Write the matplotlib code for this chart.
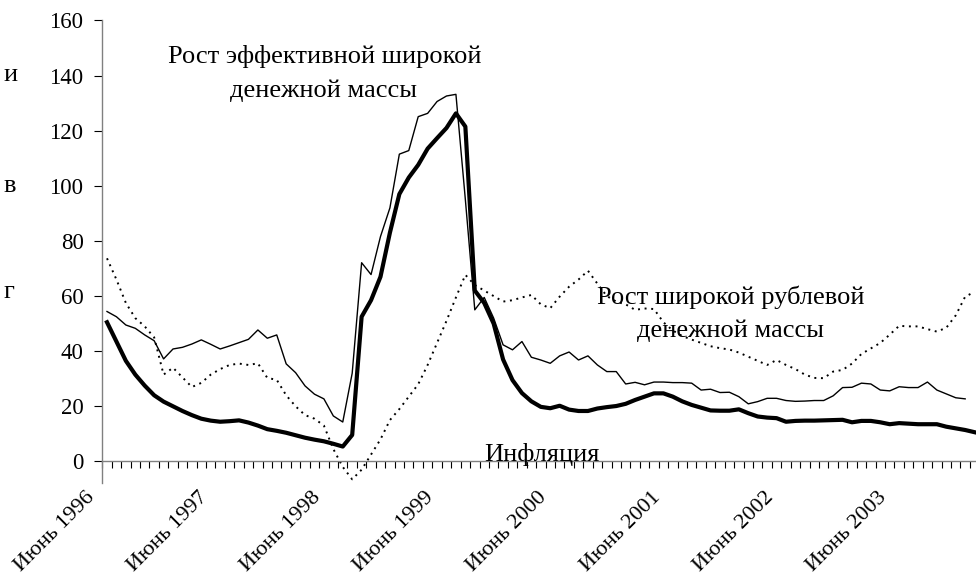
import matplotlib
matplotlib.use('Agg')
import matplotlib.pyplot as plt
from matplotlib.transforms import ScaledTranslation
import numpy as np

plt.rcParams['font.family'] = ['Liberation Serif', 'DejaVu Serif']

# monthly data, June 1996 onwards (%, year on year)
effective_m2 = [50.5, 43.5, 36.5, 31.5, 27.5, 24.0, 21.7, 20.0, 18.3, 16.8,
                15.5, 14.8, 14.4, 14.6, 14.9, 14.1, 13.0, 11.7, 11.1, 10.4,
                9.5, 8.6, 7.9, 7.3, 6.4, 5.4, 9.6, 52.5, 58.5, 67.0,
                83.0, 97.0, 103.0, 107.6, 113.5, 117.3, 121.0, 126.3, 121.5, 62.0,
                57.5, 50.0, 37.0, 29.5, 24.8, 21.8, 19.8, 19.3, 20.2, 18.8,
                18.3, 18.3, 19.2, 19.7, 20.1, 20.9, 22.3, 23.5, 24.7, 24.7,
                23.5, 21.8, 20.5, 19.5, 18.5, 18.4, 18.4, 18.9, 17.5, 16.3,
                15.9, 15.7, 14.4, 14.7, 14.8, 14.8, 14.9, 15.0, 15.1, 14.2,
                14.7, 14.7, 14.2, 13.5, 13.9, 13.7, 13.5, 13.5, 13.5, 12.6,
                12.0, 11.4, 10.6]

ruble_m2 = [54.4, 52.5, 49.5, 48.3, 45.9, 43.8, 37.2, 40.8, 41.4, 42.6,
            44.1, 42.5, 40.8, 41.9, 43.1, 44.3, 47.7, 44.7, 45.9, 35.4,
            32.2, 27.4, 24.4, 22.7, 16.5, 14.3, 32.0, 72.1, 67.8, 81.6,
            92.0, 111.5, 112.8, 125.1, 126.3, 130.6, 132.6, 133.2, 95.0, 55.0,
            59.5, 52.0, 42.3, 40.5, 43.5, 37.8, 36.8, 35.6, 38.3, 39.7,
            36.8, 38.3, 35.0, 32.6, 32.6, 28.1, 28.7, 27.8, 28.8, 28.8,
            28.6, 28.6, 28.4, 25.9, 26.2, 25.0, 25.1, 23.5, 20.9, 21.7,
            22.9, 22.9, 22.1, 21.8, 21.9, 22.1, 22.1, 23.8, 26.8, 26.9,
            28.4, 28.1, 25.9, 25.6, 27.1, 26.8, 26.8, 28.8, 25.9, 24.5,
            23.1, 22.7]

inflation = [73.7, 66.0, 57.5, 52.0, 49.0, 45.0, 31.5, 34.0, 30.5, 27.0,
             28.5, 31.5, 33.5, 35.0, 35.5, 35.0, 35.6, 30.3, 29.6, 24.0,
             20.0, 16.8, 15.5, 13.0, 4.5, -2.0, -6.5, -3.0, 2.5, 8.0,
             15.0, 19.0, 23.5, 28.0, 35.0, 43.0, 51.0, 59.5, 67.7, 64.0,
             62.0, 60.0, 58.0, 58.5, 59.5, 60.4, 57.0, 55.6, 59.8, 63.4,
             66.0, 69.2, 64.5, 60.0, 58.0, 57.0, 55.0, 55.5, 55.3, 50.5,
             47.5, 45.5, 44.2, 43.0, 41.8, 41.1, 40.6, 39.5, 38.0, 36.5,
             35.0, 36.8, 35.0, 33.5, 31.5, 30.3, 30.2, 32.6, 33.2, 35.5,
             39.0, 41.0, 43.0, 46.0, 49.2, 49.0, 49.0, 48.0, 47.1, 48.5,
             53.0, 59.8, 61.5]

years = [1996, 1997, 1998, 1999, 2000, 2001, 2002, 2003]
n_months = 93

fig = plt.figure(figsize=(9.76, 5.77), dpi=100)
ax = fig.add_axes([0.1048, 0.1621, 0.8986, 0.8024])

# points sit in the middle of each monthly category
ax.plot(np.arange(len(effective_m2)) + 0.5, effective_m2, color='black', lw=3.0,
        solid_joinstyle='round')
ax.plot(np.arange(len(ruble_m2)) + 0.5, ruble_m2, color='black', lw=1.0)
ax.plot(np.arange(len(inflation)) + 0.5, inflation, color='black', lw=1.4,
        linestyle=(0, (1, 2.4)))

ax.set_xlim(0, n_months)
ax.set_ylim(-8, 160)

for s in ['top', 'right']:
    ax.spines[s].set_visible(False)
ax.spines['bottom'].set_position(('data', 0))
ax.spines['left'].set_color('#808080')
ax.spines['bottom'].set_color('#808080')
ax.spines['left'].set_linewidth(1.0)
ax.spines['bottom'].set_linewidth(1.0)

ax.set_yticks(range(0, 161, 20))
ax.tick_params(axis='y', direction='out', length=6, width=0.8, pad=7.5,
               labelsize=16.5, color='black')

xt = list(range(n_months + 1))
xl = ['Июнь %d' % years[i // 12] if i % 12 == 0 and i // 12 < len(years) else ''
      for i in xt]
ax.set_xticks(xt)
ax.set_xticklabels(xl, rotation=45, ha='right', va='top')
ax.tick_params(axis='x', direction='out', length=5, width=0.8, pad=14,
               labelsize=16, color='black')
shift = ScaledTranslation(-4 / 100, 0, fig.dpi_scale_trans)
for lbl in ax.get_xticklabels():
    lbl.set_transform(lbl.get_transform() + shift)

ax.text(23.56, 144.5, 'Рост эффективной широкой', ha='center', va='baseline', fontsize=19)
ax.text(23.5, 132.4, 'денежной массы', ha='center', va='baseline', fontsize=19)
ax.text(66.65, 57.15, 'Рост широкой рублевой', ha='center', va='baseline', fontsize=19)
ax.text(66.65, 45.06, 'денежной массы', ha='center', va='baseline', fontsize=19)
ax.text(46.6, 0.3, 'Инфляция', ha='center', va='baseline', fontsize=19)

# pieces of a cut-off caption on the left edge
fig.text(3 / 976, 1 - 75 / 577, 'и', ha='left', va='center', fontsize=19)
fig.text(3 / 976, 1 - 186 / 577, 'в', ha='left', va='center', fontsize=19)
fig.text(3 / 976, 1 - 292 / 577, 'г', ha='left', va='center', fontsize=19)

fig.savefig('out.png', dpi=100)
